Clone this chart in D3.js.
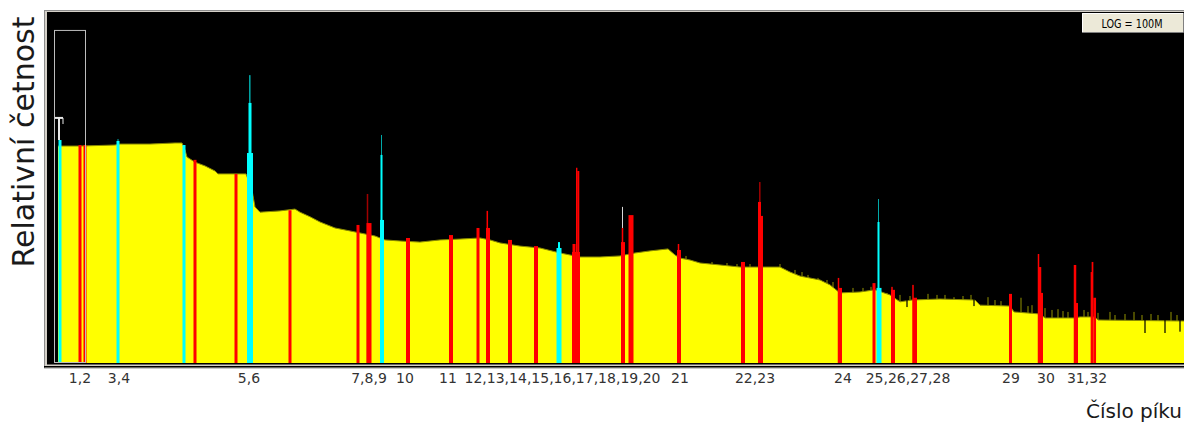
<!DOCTYPE html>
<html>
<head>
<meta charset="utf-8">
<script src="https://cdn.jsdelivr.net/npm/d3@7"></script>
<style>
  body { margin: 0; background: #fff; }
  svg { display: block; }
</style>
</head>
<body>
<svg id="chart" width="1184" height="423"></svg>
<script>
// spectrum continuum, [channel, counts]
const baseline = [
  [10, 9.1e4], [32, 9.1e4], [67, 9.6e4], [72, 1.01e5], [102, 1.01e5], [127, 1.07e5],
  [134, 1.07e5], [137, 7.4e4], [139, 5.1e4], [147, 3.9e4], [157, 3.2e4], [167, 2.45e4],
  [170, 2.1e4], [198, 2.1e4], [204, 9.0e3], [207, 3.7e3], [212, 2.8e3], [232, 3.0e3],
  [247, 3.3e3], [252, 2.8e3], [262, 2.2e3], [272, 1.67e3], [287, 1.22e3], [297, 1.1e3],
  [307, 990], [317, 890], [327, 800], [337, 650], [352, 615], [372, 580], [392, 650],
  [412, 680], [432, 720], [442, 650], [452, 555], [472, 470], [492, 425], [512, 327],
  [532, 265], [552, 265], [572, 280], [587, 327], [602, 365], [620, 405], [627, 294],
  [632, 250], [642, 226], [652, 193], [672, 174], [692, 156], [732, 156], [742, 120],
  [752, 97], [772, 79], [782, 61], [792, 40], [812, 42], [827, 47], [842, 36],
  [852, 25], [864, 27.5], [892, 29], [927, 27.5], [932, 21], [962, 20], [966, 14.7],
  [992, 13.2], [997, 10.7], [1027, 10.7], [1032, 11.3], [1047, 11.3], [1050, 9.6],
  [1136, 9.1]
];

// single-channel noise above / below the continuum
const noiseUp = [
  [638, 280], [664, 204], [679, 193], [689, 183], [702, 183], [732, 183], [747, 134],
  [754, 120], [760, 103], [770, 88], [779, 79], [785, 71], [805, 52], [815, 52],
  [823, 55], [839, 40],
  [852, 36], [862, 34], [880, 38], [889, 36], [897, 36], [906, 32], [915, 34],
  [923, 36], [940, 32], [947, 27.5], [953, 26], [973, 31], [980, 20], [984, 21],
  [997, 18], [1004, 16.3], [1010, 17], [1015, 15.4], [1020, 14.7], [1036, 16.3],
  [1040, 14.7], [1050, 14], [1062, 14.7], [1067, 12.5], [1077, 13.2], [1086, 14.7],
  [1094, 12.5], [1103, 13.2], [1110, 12.5], [1123, 14.7], [1129, 12.5]
];
const noiseDown = [[859, 19], [926, 20], [1097, 4.85], [1117, 4.85], [1132, 5.2]];

// peak bars: [channel, width, counts, kind]
const peakBars = [
  [12, 3, 1.25e5, 'cyan'],
  [70, 3, 1.19e5, 'cyan'], [70, 1, 1.32e5, 'teal'],
  [136, 3, 9.6e4, 'cyan'],
  [202, 6, 6.3e4, 'cyan'], [202, 3, 8.8e5, 'cyan'], [201.8, 1.5, 3.8e6, 'teal'],
  [334, 4, 1.86e3, 'cyan'], [333.5, 2, 5.7e4, 'cyan'], [333.5, 1, 1.63e5, 'teal'],
  [511, 5, 425, 'cyan'], [511, 2, 580, 'cyan'],
  [831, 5, 52, 'cyan'], [830.5, 2, 1.67e3, 'cyan'], [830.5, 1, 5.6e3, 'teal'],
  [32, 3, 9.6e4, 'red'], [37, 3, 9.6e4, 'red'],
  [147, 3, 4.4e4, 'red'], [188, 3, 2.1e4, 'red'], [242, 3, 3.1e3, 'red'],
  [310, 3, 1.43e3, 'red'],
  [321, 5, 1.58e3, 'red'], [319.5, 1.5, 7.3e3, 'dred'],
  [360, 4, 720, 'red'], [403, 4, 840, 'red'], [430, 3, 1.22e3, 'red'],
  [440, 4, 1.22e3, 'red'], [439.3, 1.5, 3.0e3, 'red'],
  [462, 4, 650, 'red'], [488, 4, 470, 'red'],
  [528, 8, 345, 'red'], [526, 3, 525, 'red'], [528.7, 1.4, 2.9e4, 'red'], [530.3, 2, 2.45e4, 'red'],
  [575, 4, 580, 'red'], [574.5, 1.5, 1.22e3, 'red'], [574.5, 1, 3.7e3, 'white'],
  [583, 5, 2.4e3, 'red'],
  [631, 4, 383, 'red'], [630.5, 1.5, 525, 'red'],
  [695, 4, 204, 'red'],
  [711.5, 3, 4.8e3, 'red'], [714, 2, 2.3e3, 'red'], [711.8, 1.5, 1.37e4, 'dred'],
  [792, 4, 52, 'red'], [790.5, 1.5, 88, 'red'],
  [826, 3, 67, 'red'],
  [845, 4, 47, 'red'], [844, 1.5, 55, 'red'],
  [867, 4, 31, 'red'], [865, 1.5, 61, 'red'],
  [962.5, 3, 38, 'red'],
  [990.5, 1.5, 310, 'red'], [992, 2.5, 156, 'red'], [993.5, 3, 40, 'red'],
  [1027, 2.5, 174, 'red'], [1028.5, 3, 23.5, 'red'],
  [1043.5, 1.7, 120, 'red'], [1044.5, 1.7, 204, 'red'], [1046.7, 2.7, 31, 'red']
];

// peak number labels: [text, centre channel]
const peakLabels = [
  ['1,2', 32], ['3,4', 71], ['5,6', 201], ['7,8,9', 321], ['10', 357], ['11', 400],
  ['12,13,14,15,16,17,18,19,20', 514.5], ['21', 632], ['22,23', 707], ['24', 795],
  ['25,26,27,28', 860], ['29', 963], ['30', 998], ['31,32', 1039]
];

const roiBox = [6, 37, 4.1e7];             // from channel, to channel, top counts
const cursorMark = [11, 4.0e5, 7, 15, 2.9e5]; // channel, counts, cap from, cap to, tick end

const colors = { red: '#ff0000', dred: '#a00000', cyan: '#00ffff', teal: '#00a8a8', white: '#d8d8d8' };

const svg = d3.select('#chart');
const W = 1184;
const plotTop = 13, plotBottom = 363, plotLeft = 48;

const x = d3.scaleLinear().domain([0, 1136]).range([plotLeft, W]);
const y = d3.scaleLog().domain([1, 1e8]).range([plotBottom, plotTop]);

// frame
svg.append('rect').attr('x', 44).attr('y', 10).attr('width', W - 44).attr('height', 358).attr('fill', '#d4d0c8');
svg.append('line').attr('x1', 44.5).attr('x2', 44.5).attr('y1', 10).attr('y2', 368).attr('stroke', '#8c8c8c');
svg.append('line').attr('x1', 44).attr('x2', W).attr('y1', 10.5).attr('y2', 10.5).attr('stroke', '#8c8c8c');
svg.append('rect').attr('x', 47).attr('y', 12).attr('width', W - 47).attr('height', plotBottom - 12 + 1.5).attr('fill', '#000');
svg.append('line').attr('x1', 44).attr('x2', W).attr('y1', 366.8).attr('y2', 366.8).attr('stroke', '#000').attr('stroke-width', 1.5);
svg.append('line').attr('x1', 44).attr('x2', W).attr('y1', 368.5).attr('y2', 368.5).attr('stroke', '#c8c8c8');

const plot = svg.append('g');

plot.selectAll('.noise-up').data(noiseUp).join('rect')
  .attr('class', 'noise-up')
  .attr('x', d => x(d[0]) - 0.6).attr('width', 1.2)
  .attr('y', d => y(d[1])).attr('height', d => plotBottom - y(d[1]))
  .attr('fill', '#7a7a00');

plot.append('path').datum(baseline)
  .attr('fill', '#ffff00')
  .attr('d', d3.area().x(d => x(d[0])).y0(plotBottom).y1(d => y(d[1])));

plot.append('path').datum(baseline)
  .attr('fill', 'none').attr('stroke', '#8a8a00').attr('stroke-width', 1)
  .attr('d', d3.line().x(d => x(d[0])).y(d => y(d[1])));

plot.selectAll('.noise-down').data(noiseDown).join('rect')
  .attr('class', 'noise-down')
  .attr('x', d => x(d[0]) - 0.6).attr('width', 1.2)
  .attr('y', plotTop).attr('height', d => y(d[1]) - plotTop)
  .attr('fill', '#000');

const sortedBars = peakBars.slice().sort((a, b) => b[2] - a[2]);
plot.selectAll('.peak').data(sortedBars).join('rect')
  .attr('class', 'peak')
  .attr('x', d => x(d[0] - d[1] / 2))
  .attr('width', d => x(d[0] + d[1] / 2) - x(d[0] - d[1] / 2))
  .attr('y', d => y(d[2]))
  .attr('height', d => plotBottom - y(d[2]))
  .attr('fill', d => colors[d[3]]);

// cursor marker
const cm = plot.append('g').attr('stroke', '#e8e8e8').attr('stroke-width', 2);
cm.append('line').attr('x1', x(cursorMark[0])).attr('x2', x(cursorMark[0]))
  .attr('y1', y(cursorMark[1])).attr('y2', y(1.25e5));
cm.append('line').attr('x1', x(cursorMark[2])).attr('x2', x(cursorMark[3]))
  .attr('y1', y(cursorMark[1])).attr('y2', y(cursorMark[1]));
cm.append('line').attr('x1', x(cursorMark[3])).attr('x2', x(cursorMark[3]))
  .attr('y1', y(cursorMark[1])).attr('y2', y(cursorMark[4])).attr('stroke-width', 1);

// ROI box
plot.append('rect')
  .attr('x', x(roiBox[0]) + 0.5).attr('y', y(roiBox[2]) + 0.5)
  .attr('width', x(roiBox[1]) - x(roiBox[0])).attr('height', plotBottom - y(roiBox[2]) - 1)
  .attr('fill', 'none').attr('stroke', '#bdbdbd');

// LOG button
const btn = svg.append('g');
btn.append('rect').attr('x', 1082).attr('y', 13).attr('width', 101).attr('height', 20).attr('fill', '#ece9d8');
btn.append('path').attr('d', 'M1082.5,33V13.5H1183').attr('fill', 'none').attr('stroke', '#ffffff');
btn.append('path').attr('d', 'M1082,32.5H1183.5V13').attr('fill', 'none').attr('stroke', '#808080');
btn.append('text').attr('x', 1132).attr('y', 27.5).attr('text-anchor', 'middle')
  .attr('font-family', 'Liberation Sans Narrow, DejaVu Sans Condensed, sans-serif')
  .attr('font-size', 13).attr('textLength', 61).attr('lengthAdjust', 'spacingAndGlyphs')
  .attr('fill', '#000').text('LOG = 100M');

// peak labels
svg.append('g').selectAll('text').data(peakLabels).join('text')
  .attr('x', d => x(d[1])).attr('y', 383)
  .attr('text-anchor', 'middle')
  .attr('font-family', 'DejaVu Sans, sans-serif').attr('font-size', 14)
  .attr('fill', '#333').text(d => d[0]);

// axis titles
svg.append('text').attr('transform', 'translate(34,142) rotate(-90)')
  .attr('text-anchor', 'middle').attr('font-family', 'DejaVu Sans, sans-serif')
  .attr('font-size', 30).attr('fill', '#1a1a1a').text('Relativní četnost');
svg.append('text').attr('x', 1182).attr('y', 418).attr('text-anchor', 'end')
  .attr('font-family', 'DejaVu Sans, sans-serif').attr('font-size', 20)
  .attr('fill', '#1a1a1a').text('Číslo píku');
</script>
</body>
</html>
